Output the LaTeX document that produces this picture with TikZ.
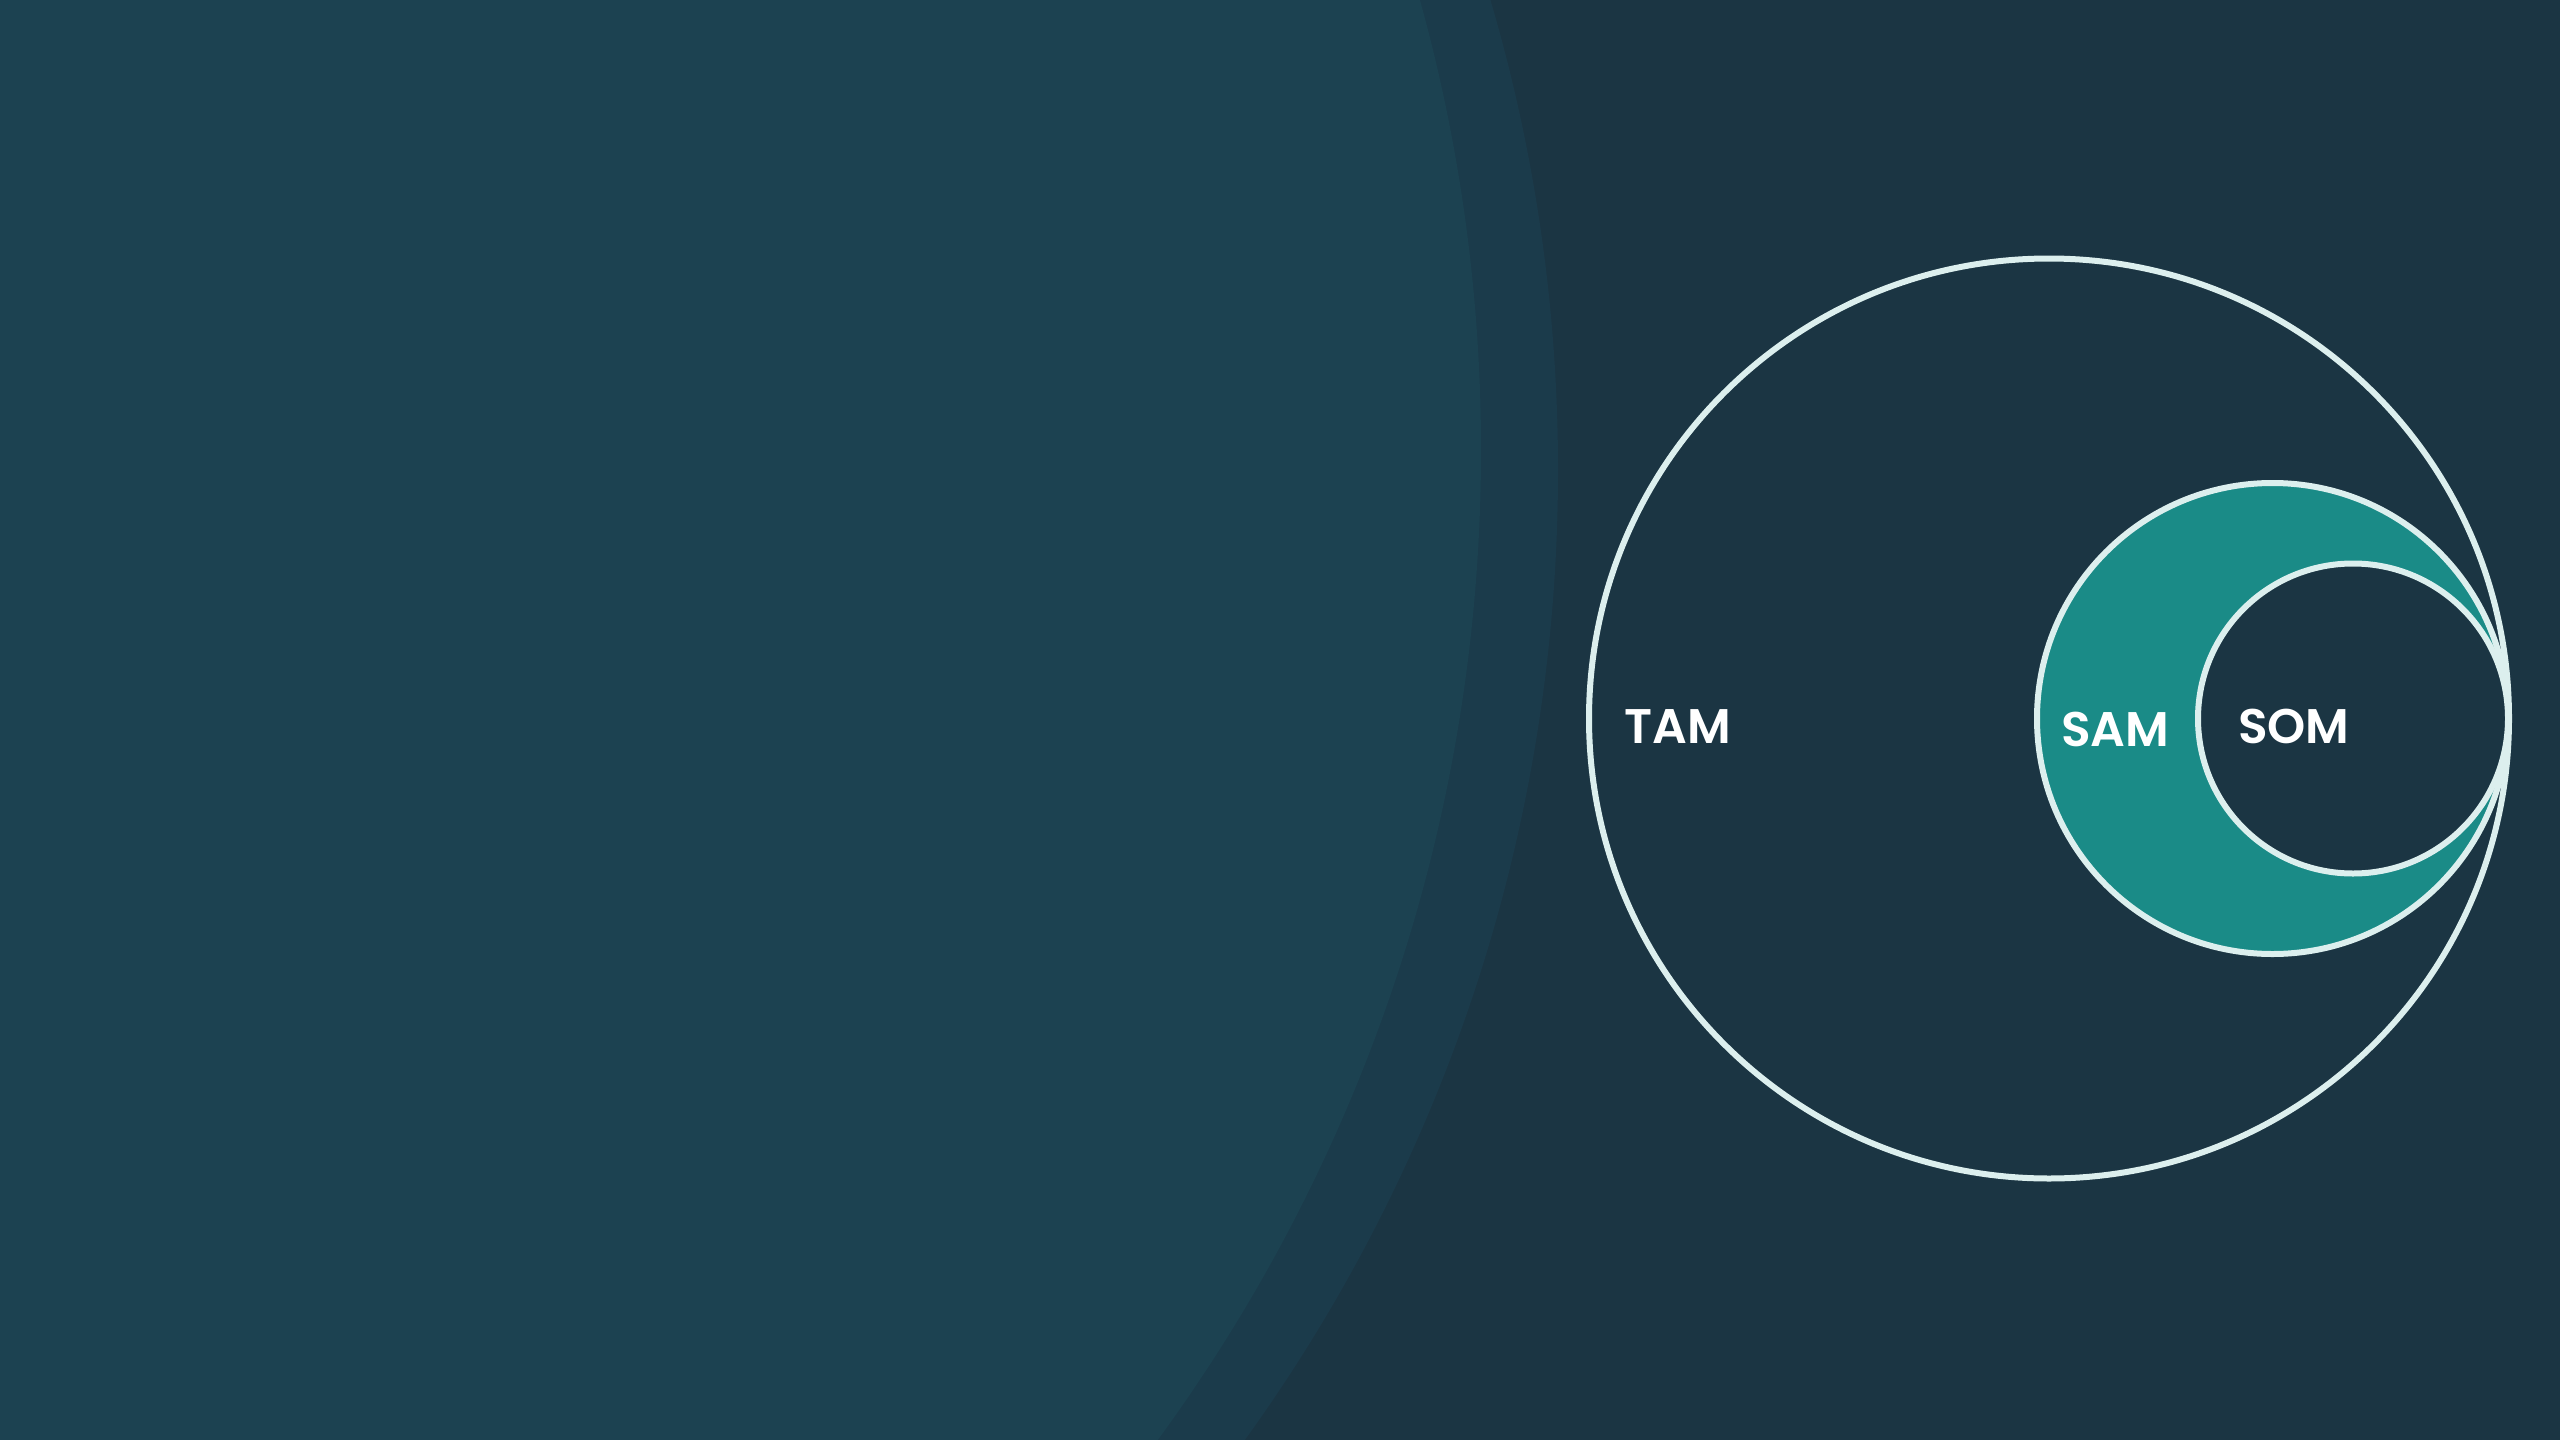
\documentclass[tikz,border=0pt]{standalone}
\usepackage{fontspec}
\newfontfamily\popsb{Poppins SemiBold}
\definecolor{bgright}{HTML}{1B3543}
\definecolor{bgmid}{HTML}{1B3B4B}
\definecolor{bgleft}{HTML}{1C4251}
\definecolor{teal}{HTML}{1A8B87}
\definecolor{ring}{HTML}{DCEFEE}
\begin{document}
\begin{tikzpicture}[x=1pt,y=-1pt,
  ringcirc/.style={circle, draw=ring, line width=6pt, inner sep=0pt},
  lbl/.style={anchor=base west, inner sep=0pt, text=white, font=\popsb\fontsize{48.6}{50}\selectfont}]
\useasboundingbox (0,0) rectangle (2560,1440);
\begin{scope}
\clip (0,0) rectangle (2560,1440);
\fill[bgright] (0,0) rectangle (2560,1440);
\fill[bgmid] (-100,470) circle[radius=1658];
\fill[bgleft] (-196,450) circle[radius=1677];
\end{scope}
\node[ringcirc, fill=bgright, minimum size=920pt] (tam) at (2049,718.5) {};
\node[ringcirc, fill=teal, minimum size=471pt] (sam) at (2272.5,718.5) {};
\node[ringcirc, fill=bgright, minimum size=310pt] (som) at (2353,718.5) {};
\node[lbl] (tamlbl) at (1624,743) {TAM};
\node[lbl] (samlbl) at (2061,746) {SAM};
\node[lbl] (somlbl) at (2238,743) {SOM};
\end{tikzpicture}
\end{document}
